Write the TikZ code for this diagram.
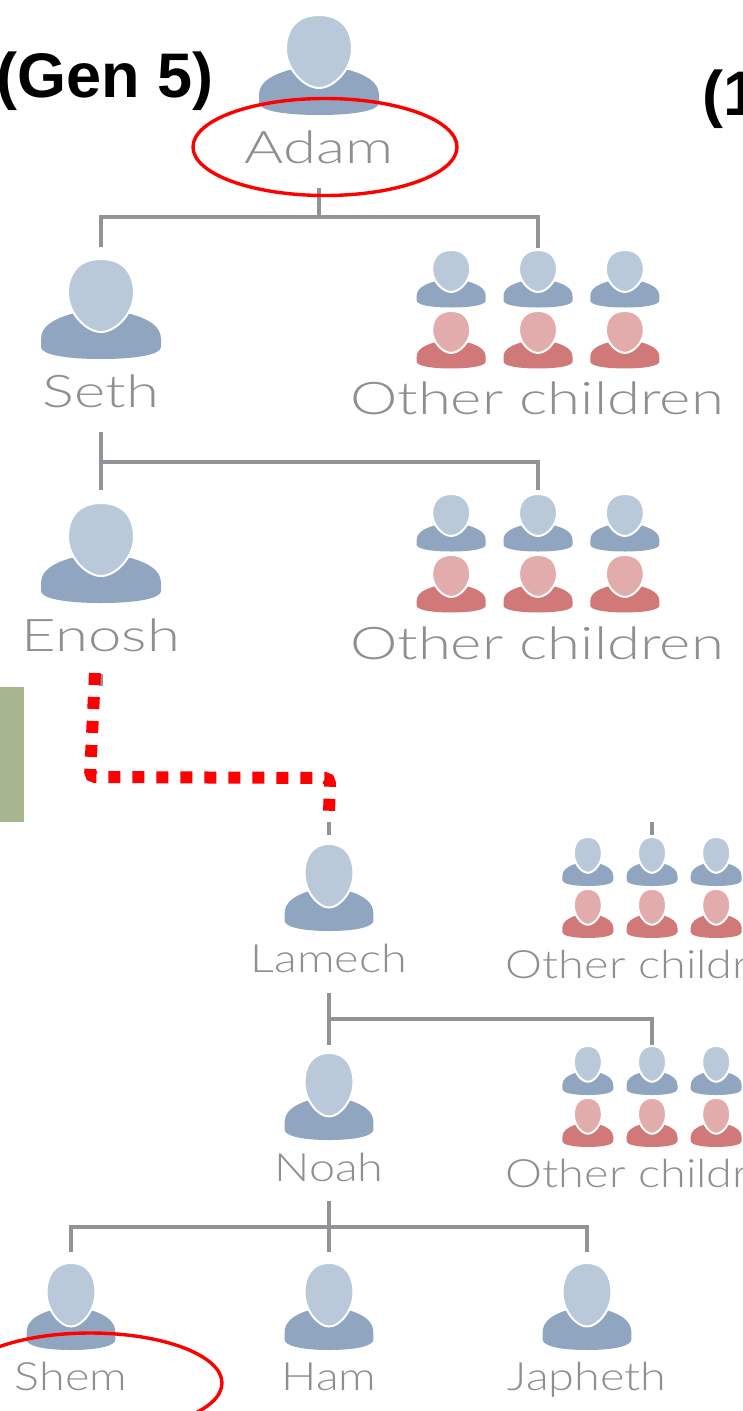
\documentclass[tikz,border=0pt]{standalone}
\usepackage{fontspec}
\setmainfont{Lato Light}
\newfontfamily\arialfont{Liberation Sans}
\usepackage{tikz}
\usetikzlibrary{shapes.geometric}
\definecolor{headblue}{HTML}{B9C9D9}
\definecolor{bodyblue}{HTML}{90A6C0}
\definecolor{headred}{HTML}{E2ACAC}
\definecolor{bodyred}{HTML}{D17878}
\definecolor{linegray}{HTML}{929397}
\definecolor{textgray}{HTML}{8E8F91}
\definecolor{sidegreen}{HTML}{A8B68F}
\tikzset{
    pics/person/.style n args={2}{code={
        \fill[#2] (-60,80) .. controls (-60,67) and (-47,60) .. (-30,55) -- (30,55)
            .. controls (47,60) and (60,67) .. (60,80) -- (60,88)
            .. controls (60,95) and (38,100) .. (0,100)
            .. controls (-38,100) and (-60,95) .. (-60,88) -- cycle;
        \fill[#1, draw=white, line width=2pt] (0,0) .. controls (23,0) and (33,15) .. (33,34)
            .. controls (33,54) and (15,73) .. (0,73)
            .. controls (-15,73) and (-33,54) .. (-33,34)
            .. controls (-33,15) and (-23,0) .. (0,0) -- cycle;
    }},
    pics/kids/.style={code={
        \foreach \col in {-151,0,151} {
            \pic[transform shape] at (\col,0) {person={headblue}{bodyblue}};
            \pic[transform shape] at (\col,106) {person={headred}{bodyred}};
        }
    }},
    kidsup/.style={xscale=.575,yscale=.575},
    kidslow/.style={xscale=.425,yscale=.49},
    midsize/.style={xscale=.74,yscale=.87},
    link/.style={draw=linegray, line width=4pt},
    nametext/.style={text=textgray, inner sep=0pt, anchor=base, transform shape},
    nameup/.style={nametext, font=\fontsize{45}{45}\selectfont, xscale=1.33},
    namelow/.style={nametext, font=\fontsize{39}{39}\selectfont, xscale=1.2},
    gen/.style={font=\arialfont\bfseries\fontsize{63}{63}\selectfont, inner sep=0pt},
    ring/.style={draw=red, line width=3.4pt},
}
\begin{document}
\begin{tikzpicture}[x=1pt,y=-1pt]
    \useasboundingbox (0,0) rectangle (743,1411);
    \clip (0,0) rectangle (743,1411);

    % generation tags
    \node[gen, anchor=base east] (gen) at (214,97) {(Gen 5)};
    \node[gen, anchor=base west] (other) at (702,115) {(1};
    \fill[sidegreen] (0,687) rectangle (24,822);

    % people
    \pic at (319,15) {person={headblue}{bodyblue}};
    \pic at (101,259) {person={headblue}{bodyblue}};
    \pic at (101,503) {person={headblue}{bodyblue}};
    \pic[kidsup] at (538,250) {kids};
    \pic[kidsup] at (538,494) {kids};
    \pic[midsize] at (329,844) {person={headblue}{bodyblue}};
    \pic[midsize] at (329,1053) {person={headblue}{bodyblue}};
    \pic[midsize] at (71,1263) {person={headblue}{bodyblue}};
    \pic[midsize] at (329,1263) {person={headblue}{bodyblue}};
    \pic[midsize] at (587,1263) {person={headblue}{bodyblue}};
    \pic[kidslow] at (652,837) {kids};
    \pic[kidslow] at (652,1046) {kids};

    % names
    \node[nameup] (adam) at (319,163) {Adam};
    \node[nameup] (seth) at (101,407) {Seth};
    \node[nameup] (enosh) at (101,651) {Enosh};
    \node[nameup] (others1) at (537,414) {Other children};
    \node[nameup] (others2) at (537,659) {Other children};
    \node[namelow] (lamech) at (329,972) {Lamech};
    \node[namelow] (noah) at (329,1181) {Noah};
    \node[namelow] (others3) at (652,978) {Other children};
    \node[namelow] (others4) at (652,1187) {Other children};
    \node[namelow] (shem) at (71,1390) {Shem};
    \node[namelow] (ham) at (329,1390) {Ham};
    \node[namelow] (japheth) at (587,1390) {Japheth};

    % line ends
    \coordinate (adamout) at (319,188);
    \coordinate (sethin) at (101,247);
    \coordinate (kids1in) at (538,248);
    \coordinate (sethout) at (101,432);
    \coordinate (enoshin) at (101,490);
    \coordinate (kids2in) at (538,490);
    \coordinate (enoshout) at (101,674);
    \coordinate (enoshend) at (101,686);
    \coordinate (lamechin) at (329,835);
    \coordinate (lamechtop) at (329,822);
    \coordinate (kids3in) at (652,835);
    \coordinate (kids3top) at (652,822);
    \coordinate (lamechout) at (329,993);
    \coordinate (noahin) at (329,1045);
    \coordinate (kids4in) at (652,1045);
    \coordinate (noahout) at (329,1201);
    \coordinate (hamin) at (329,1252);
    \coordinate (shemin) at (71,1252);
    \coordinate (japhethin) at (587,1252);

    % family lines
    \draw[link] (adamout) -- ++(0,29);
    \draw[link] (sethin) -- ++(0,-30) -| (kids1in);
    \draw[link] (sethout) -- (enoshin);
    \draw[link] (sethout) ++(0,30) -| (kids2in);
    \draw[link] (enoshout) -- (enoshend);
    \draw[link] (lamechtop) -- (lamechin);
    \draw[link] (kids3top) -- (kids3in);
    \draw[link] (lamechout) -- (noahin);
    \draw[link] (lamechout) ++(0,26) -| (kids4in);
    \draw[link] (noahout) -- (hamin);
    \draw[link] (shemin) -- ++(0,-25) -| (japhethin);

    % red marks
    \coordinate (gapstart) at (95,673);
    \coordinate (gapcorner) at (90,777);
    \coordinate (gapturn) at (330,778);
    \coordinate (gapend) at (329,814);
    \draw[red, line width=12pt, dash pattern=on 12pt off 12pt, rounded corners=5pt]
        (gapstart) -- (gapcorner) -- (gapturn) -- (gapend);
    \node[ring, ellipse, minimum width=264pt, minimum height=97pt, inner sep=0pt] (ringadam) at (325,147) {};
    \node[ring, ellipse, minimum width=264pt, minimum height=100pt, inner sep=0pt] (ringshem) at (90,1383) {};
\end{tikzpicture}
\end{document}
